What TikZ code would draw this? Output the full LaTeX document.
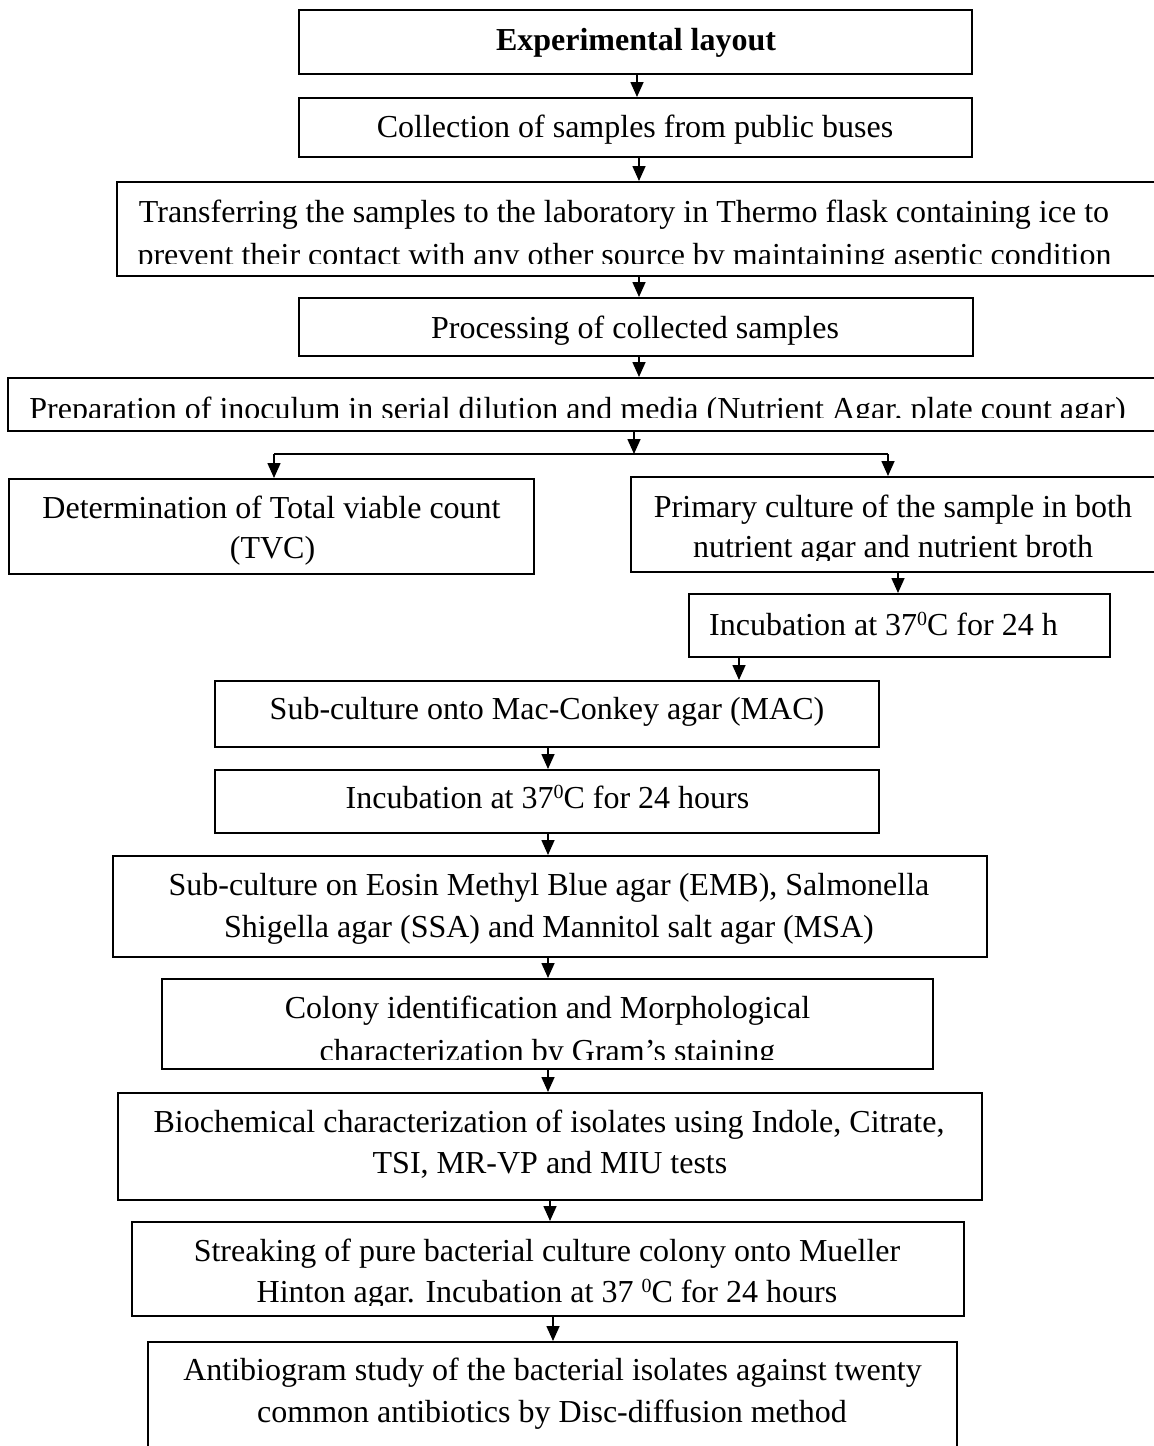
\documentclass[tikz,border=0pt]{standalone}
\usepackage{fontspec}
\setmainfont{Liberation Serif}
\usetikzlibrary{arrows.meta}
\newcommand\degsup{\raisebox{10pt}{\fontsize{20}{20}\selectfont 0}}
\begin{document}
\begin{tikzpicture}[x=1pt,y=-1pt,
  box/.style={draw, line width=2pt, rectangle, inner sep=0pt},
  txt/.style={anchor=base, inner sep=0pt, font=\fontsize{32}{40}\selectfont},
  arr/.style={line width=1.6pt, -{Triangle[length=15pt,width=13pt]}},
  plain/.style={line width=1.6pt}
]
\useasboundingbox (0,0) rectangle (1154,1446);
% boxes
\node[box, minimum width=673pt, minimum height=64pt]  (b1)  at (635.5,42) {};
\node[box, minimum width=673pt, minimum height=59pt]  (b2)  at (635.5,127.5) {};
\node[box, minimum width=1043pt, minimum height=94pt] (b3)  at (638.5,229) {};
\node[box, minimum width=674pt, minimum height=58pt]  (b4)  at (636,327) {};
\node[box, minimum width=1152pt, minimum height=53pt] (b5)  at (584,404.5) {};
\node[box, minimum width=525pt, minimum height=95pt]  (b6l) at (271.5,526.5) {};
\node[box, minimum width=529pt, minimum height=95pt]  (b6r) at (895.5,524.5) {};
\node[box, minimum width=421pt, minimum height=63pt]  (b7)  at (899.5,625.5) {};
\node[box, minimum width=664pt, minimum height=66pt]  (b8)  at (547,714) {};
\node[box, minimum width=664pt, minimum height=63pt]  (b9)  at (547,801.5) {};
\node[box, minimum width=874pt, minimum height=101pt] (b10) at (550,906.5) {};
\node[box, minimum width=771pt, minimum height=90pt]  (b11) at (547.5,1024) {};
\node[box, minimum width=864pt, minimum height=107pt] (b12) at (550,1146.5) {};
\node[box, minimum width=832pt, minimum height=94pt]  (b13) at (548,1269) {};
\node[box, minimum width=809pt, minimum height=118pt] (b14) at (552.5,1401) {};
% texts
\node[txt, font=\fontsize{32}{40}\selectfont\bfseries] (t1) at (636,50) {Experimental layout};
\node[txt] (t2) at (635,137) {Collection of samples from public buses};
\node[txt] (t3a) at (624,222) {Transferring the samples to the laboratory in Thermo flask containing ice to};
\begin{scope}
  \clip (100,240) rectangle (1154,263.5);
  \node[txt] (t3b) at (624.5,265) {prevent their contact with any other source by maintaining aseptic condition};
\end{scope}
\node[txt] (t4) at (635,338) {Processing of collected samples};
\begin{scope}
  \clip (0,385) rectangle (1154,417.5);
  \node[txt] (t5) at (577.5,419) {Preparation of inoculum in serial dilution and media (Nutrient Agar, plate count agar)};
\end{scope}
\node[txt] (t6la) at (271.5,518) {Determination of Total viable count};
\node[txt] (t6lb) at (272.5,558) {(TVC)};
\node[txt] (t6ra) at (893,517) {Primary culture of the sample in both};
\begin{scope}
  \clip (640,530) rectangle (1154,560);
  \node[txt] (t6rb) at (893,557) {nutrient agar and nutrient broth};
\end{scope}
\node[txt, anchor=base west] (t7) at (709,635) {Incubation at 37\degsup C for 24 h};
\node[txt] (t8) at (547,719) {Sub-culture onto Mac-Conkey agar (MAC)};
\node[txt] (t9) at (547.5,808) {Incubation at 37\degsup C for 24 hours};
\node[txt] (t10a) at (549,895) {Sub-culture on Eosin Methyl Blue agar (EMB), Salmonella};
\node[txt] (t10b) at (549,937) {Shigella agar (SSA) and Mannitol salt agar (MSA)};
\node[txt] (t11a) at (547.5,1018) {Colony identification and Morphological};
\begin{scope}
  \clip (170,1030) rectangle (925,1059);
  \node[txt] (t11b) at (547.5,1061) {characterization by Gram’s staining};
\end{scope}
\node[txt] (t12a) at (549,1132) {Biochemical characterization of isolates using Indole, Citrate,};
\node[txt] (t12b) at (550,1173) {TSI, MR-VP and MIU tests};
\node[txt] (t13a) at (547,1261) {Streaking of pure bacterial culture colony onto Mueller};
\begin{scope}
  \clip (140,1275) rectangle (955,1305);
  \node[txt] (t13b) at (547,1302) {Hinton agar. Incubation at 37 \degsup C for 24 hours};
\end{scope}
\node[txt] (t14a) at (552.5,1380) {Antibiogram study of the bacterial isolates against twenty};
\node[txt] (t14b) at (552,1422) {common antibiotics by Disc-diffusion method};
% arrow x positions
\coordinate (xa) at (637,0);
\coordinate (xb) at (639,0);
\coordinate (xc) at (634,0);
\coordinate (xl) at (274,0);
\coordinate (xr) at (888,0);
\coordinate (xd) at (898,0);
\coordinate (xe) at (739,0);
\coordinate (xf) at (548,0);
\coordinate (xg) at (550,0);
\coordinate (xh) at (553,0);
\coordinate (split) at (634,454);
\coordinate (sl) at (274,454);
\coordinate (sr) at (888,454);
% connectors
\draw[arr] (b1.south -| xa) -- (b2.north -| xa);
\draw[arr] (b2.south -| xb) -- (b3.north -| xb);
\draw[arr] (b3.south -| xb) -- (b4.north -| xb);
\draw[arr] (b4.south -| xb) -- (b5.north -| xb);
\draw[arr] (b5.south -| xc) -- (split);
\draw[plain] (sl) -- (sr);
\draw[arr] (sl) -- (b6l.north -| xl);
\draw[arr] (sr) -- (b6r.north -| xr);
\draw[arr] (b6r.south -| xd) -- (b7.north -| xd);
\draw[arr] (b7.south -| xe) -- (b8.north -| xe);
\draw[arr] (b8.south -| xf) -- (b9.north -| xf);
\draw[arr] (b9.south -| xf) -- (b10.north -| xf);
\draw[arr] (b10.south -| xf) -- (b11.north -| xf);
\draw[arr] (b11.south -| xf) -- (b12.north -| xf);
\draw[arr] (b12.south -| xg) -- (b13.north -| xg);
\draw[arr] (b13.south -| xh) -- (b14.north -| xh);
\end{tikzpicture}
\end{document}
